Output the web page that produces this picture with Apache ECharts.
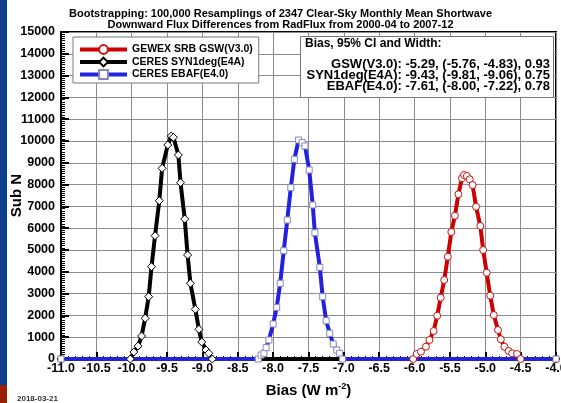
<!DOCTYPE html>
<html>
<head>
<meta charset="utf-8">
<script src="https://cdn.jsdelivr.net/npm/echarts@6/dist/echarts.min.js"></script>
<style>
html, body { margin: 0; padding: 0; background: #fff; }
#chart { width: 561px; height: 403px; }
</style>
</head>
<body>
<div id="chart"></div>
<script>
// bootstrap histograms: bin centre (W m-2) and count
const gswBias = [-11.0, -6.02, -5.97, -5.91, -5.84, -5.79, -5.73, -5.68, -5.63, -5.58, -5.53, -5.48, -5.43, -5.38,
    -5.33, -5.30, -5.26, -5.22, -5.18, -5.13, -5.07, -5.03, -4.98, -4.93, -4.88, -4.82, -4.78, -4.73, -4.67, -4.62, -4.55, -4.50, -4.0];
const gswCount = [0, 0, 229, 335, 564, 872, 1284, 1986, 2812, 3624, 4693, 5826, 6573, 7555,
    8289, 8440, 8394, 8243, 7982, 6986, 6101, 5000, 3959, 2904, 2018, 1330, 904, 564, 367, 261, 229, 0, 0];

const synBias = [-11.0, -10.02, -9.97, -9.91, -9.86, -9.81, -9.76, -9.72, -9.67, -9.61, -9.57, -9.49, -9.44, -9.41,
    -9.34, -9.31, -9.25, -9.21, -9.17, -9.10, -9.05, -9.01, -8.95, -8.91, -8.86, -4.0];
const synCount = [0, 0, 321, 596, 1055, 1865, 2858, 4234, 5657, 7261, 8748, 9817, 10229, 10170,
    9358, 8088, 6422, 4771, 3472, 2280, 1362, 780, 413, 261, 0, 0];

const ebafBias = [-11.0, -8.21, -8.17, -8.13, -8.10, -8.06, -8.00, -7.95, -7.90, -7.85, -7.80, -7.75, -7.70, -7.64,
    -7.59, -7.55, -7.49, -7.44, -7.41, -7.34, -7.30, -7.25, -7.20, -7.15, -7.10, -7.06, -7.02, -4.0];
const ebafCount = [0, 0, 183, 261, 518, 872, 1606, 2370, 3472, 4969, 6376, 7860, 9160, 10046,
    9924, 9771, 8670, 7064, 5794, 4206, 2858, 1757, 1179, 688, 413, 261, 0, 0];

const seriesNames = ['GEWEX SRB GSW(V3.0)', 'CERES SYN1deg(E4A)', 'CERES EBAF(E4.0)'];

// numbers in the box at upper right
const statNames = ['GSW(V3.0)', 'SYN1deg(E4A)', 'EBAF(E4.0)'];
const statBias = ['-5.29', '-9.43', '-7.61'];
const statLow = ['-5.76', '-9.81', '-8.00'];
const statHigh = ['-4.83', '-9.06', '-7.22'];
const statWidth = ['0.93', '0.75', '0.78'];

const xTicks = { min: -11, max: -4, step: 0.5 };
const yTicks = { min: 0, max: 15000, step: 1000 };

const font = '"Liberation Sans", Arial, Helvetica, sans-serif';

function pairs(xs, ys) {
    return xs.map((x, i) => [x, ys[i]]);
}

function makeSeries(name, data, color, symbol, size, border) {
    return {
        name,
        type: 'line',
        data,
        symbol,
        symbolSize: size,
        showAllSymbol: true,
        lineStyle: { color, width: 4 },
        itemStyle: { color: '#fff', borderColor: border, borderWidth: 1 },
        emphasis: { disabled: true },
        clip: true
    };
}

// one right-aligned text per stats row
const statRows = statNames.map((n, i) => ({
    type: 'text',
    right: 11,
    top: 58 + i * 11,
    z: 101,
    style: {
        text: `${n}: ${statBias[i]}, (${statLow[i]}, ${statHigh[i]}), ${statWidth[i]}`,
        font: 'bold 13px ' + font,
        fill: '#000'
    }
}));

const chart = echarts.init(document.getElementById('chart'));

chart.setOption({
    animation: false,
    backgroundColor: '#fff',
    title: {
        text: 'Bootstrapping: 100,000 Resamplings of 2347 Clear-Sky Monthly Mean Shortwave\nDownward Flux Differences from RadFlux from 2000-04 to 2007-12',
        left: 'center',
        top: 3,
        textStyle: {
            fontFamily: font,
            fontWeight: 'bold',
            fontSize: 11,
            lineHeight: 11,
            color: '#000'
        }
    },
    legend: {
        orient: 'vertical',
        left: 73,
        top: 37,
        padding: [7, 6, 3, 5],
        itemWidth: 47,
        itemHeight: 11,
        itemGap: 1.5,
        borderColor: '#777',
        borderWidth: 1,
        backgroundColor: '#fff',
        data: seriesNames,
        lineStyle: { width: 4 },
        textStyle: {
            fontFamily: font,
            fontWeight: 'bold',
            fontSize: 10.5,
            color: '#000'
        }
    },
    grid: {
        left: 61,
        right: 5,
        top: 32,
        bottom: 44,
        outerBoundsMode: 'none',
        show: true,
        borderColor: '#000',
        borderWidth: 2,
        backgroundColor: 'transparent'
    },
    xAxis: {
        type: 'value',
        min: xTicks.min,
        max: xTicks.max,
        interval: xTicks.step,
        axisLine: { lineStyle: { color: '#000', width: 2 } },
        axisTick: { inside: true, length: 7, lineStyle: { color: '#000', width: 2 } },
        minorTick: { show: true, splitNumber: 5, length: 3, lineStyle: { color: '#000' } },
        splitLine: { show: true, lineStyle: { color: '#8c8c8c', width: 1 } },
        axisLabel: {
            formatter: v => v.toFixed(1),
            fontFamily: font,
            fontWeight: 'bold',
            fontSize: 12.5,
            color: '#000',
            margin: 3
        },
        name: '{a|Bias (W m}{s|-2}{a|)}',
        nameLocation: 'middle',
        nameGap: 23,
        nameMoveOverlap: false,
        nameTextStyle: {
            rich: {
                a: { fontFamily: font, fontWeight: 'bold', fontSize: 15, color: '#000' },
                s: { fontFamily: font, fontWeight: 'bold', fontSize: 9, color: '#000', padding: [0, 0, 8, 0] }
            }
        }
    },
    yAxis: {
        type: 'value',
        min: yTicks.min,
        max: yTicks.max,
        interval: yTicks.step,
        axisLine: { show: true, lineStyle: { color: '#000', width: 2 } },
        axisTick: { show: true, inside: true, length: 8, lineStyle: { color: '#000', width: 2 } },
        minorTick: { show: true, splitNumber: 10, length: 4, lineStyle: { color: '#000' } },
        splitLine: { show: true, lineStyle: { color: '#8c8c8c', width: 1 } },
        axisLabel: {
            formatter: v => String(v),
            fontFamily: font,
            fontWeight: 'bold',
            fontSize: 12.5,
            color: '#000',
            margin: 6
        },
        name: 'Sub N',
        nameLocation: 'middle',
        nameGap: 37,
        nameMoveOverlap: false,
        nameTextStyle: { fontFamily: font, fontWeight: 'bold', fontSize: 15, color: '#000' }
    },
    graphic: [
        { type: 'rect', left: 0, top: 0, shape: { width: 7, height: 385 }, style: { fill: '#0a3f8c' } },
        { type: 'rect', left: 0, top: 385, shape: { width: 7, height: 18 }, style: { fill: '#9b2100' } },
        {
            type: 'text', left: 17, top: 395,
            style: { text: '2018-03-21', font: 'bold 8px ' + font, fill: '#333' }
        },
        {
            type: 'rect', left: 300, top: 36, z: 100,
            shape: { width: 253, height: 61 },
            style: { fill: '#fff', stroke: '#777', lineWidth: 1 }
        },
        {
            type: 'text', left: 305, top: 38, z: 101,
            style: { text: 'Bias, 95% CI and Width:', font: 'bold 12px ' + font, fill: '#000' }
        }
    ].concat(statRows),
    series: [
        makeSeries(seriesNames[0], pairs(gswBias, gswCount), '#cc0000', 'circle', 7, '#cc1111'),
        makeSeries(seriesNames[1], pairs(synBias, synCount), '#000', 'diamond', 8, '#000'),
        makeSeries(seriesNames[2], pairs(ebafBias, ebafCount), '#2222dd', 'rect', 6, '#8888bb')
    ]
});
</script>
</body>
</html>
